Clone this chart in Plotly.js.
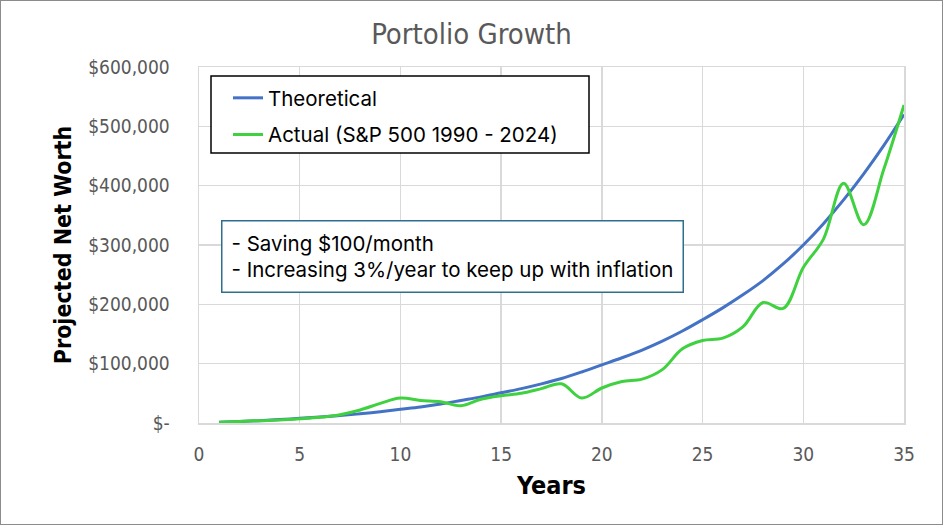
<!DOCTYPE html>
<html>
<head>
<meta charset="utf-8">
<script src="https://cdn.plot.ly/plotly-3.0.1.min.js"></script>
<style>
html,body{margin:0;padding:0;background:#fff;}
#chart{width:941px;height:523px;border:1px solid #8c8c8c;}
</style>
</head>
<body>
<div id="chart"></div>
<script>
// Data
const years = [1,2,3,4,5,6,7,8,9,10,11,12,13,14,15,16,17,18,19,20,21,22,23,24,25,26,27,28,29,30,31,32,33,34,35];
const theoretical = [1200,2500,4000,5800,7800,10000,12600,15500,19000,23000,27000,32000,38000,44000,51000,58000,66000,75000,86000,98000,110000,123000,138000,155000,174000,194000,216000,240000,268000,300000,336000,376000,420000,468000,520000];
const actual = [1200,2500,4000,5000,7000,9500,14000,22000,33000,42000,38000,36000,29000,40000,46000,50000,58000,66000,42000,59000,70000,74000,90000,125000,139000,143000,162000,203000,193000,262000,310000,404000,334000,428000,536000];
const seriesNames = ["Theoretical", "Actual (S&P 500 1990 - 2024)"];
const yTickVals = [0,100000,200000,300000,400000,500000,600000];
const yTickText = ["$-","$100,000","$200,000","$300,000","$400,000","$500,000","$600,000"];
const xTickVals = [0,5,10,15,20,25,30,35];
const chartTitle = "Portolio Growth";
const xTitle = "Years";
const yTitle = "Projected Net Worth";
const noteText = "- Saving $100/month<br>- Increasing 3%/year to keep up with inflation";

const narrow = '"Liberation Sans Narrow", "DejaVu Sans Condensed", sans-serif';
const body = 'Inter, "Noto Sans", sans-serif';

const traces = [
  {x: years, y: theoretical, name: seriesNames[0], type: 'scatter', mode: 'lines',
   line: {color: '#4472c4', width: 3, shape: 'spline', smoothing: 1}, legendgroup: 'a'},
  {x: years, y: actual, name: seriesNames[1], type: 'scatter', mode: 'lines',
   line: {color: '#3fd13f', width: 3, shape: 'spline', smoothing: 1}, legendgroup: 'b'}
];

const plotW = 941 - 198 - 38, plotH = 523 - 66 - 101;
const px = v => (v - 198) / plotW;        // page x -> paper x
const py = v => 1 - (v - 66) / plotH;     // page y -> paper y

const layout = {
  width: 941, height: 523,
  margin: {l: 198, r: 38, t: 66, b: 101},
  paper_bgcolor: '#fff', plot_bgcolor: '#fff',
  title: {text: chartTitle, x: 0.5, xanchor: 'center', yref: 'container', y: 1 - 33/523, yanchor: 'middle',
          font: {family: narrow, size: 29, color: '#595959'}},
  xaxis: {range: [0, 35], tickvals: xTickVals, ticks: 'outside', ticklen: 14, tickcolor: 'rgba(0,0,0,0)',
          showgrid: true, gridcolor: '#d9d9d9', gridwidth: 1.5, zeroline: false,
          showline: true, linecolor: '#d9d9d9', linewidth: 1.5, mirror: true,
          tickfont: {family: narrow, size: 19, color: '#595959'},
          title: {text: '<b>' + xTitle + '</b>', standoff: 12, font: {family: narrow, size: 25, color: '#000'}}},
  yaxis: {range: [0, 600000], tickvals: yTickVals, ticktext: yTickText, ticks: 'outside', ticklen: 24,
          tickcolor: 'rgba(0,0,0,0)',
          showgrid: true, gridcolor: '#d9d9d9', gridwidth: 1.5, zeroline: false,
          showline: true, linecolor: '#d9d9d9', linewidth: 1.5, mirror: true,
          tickfont: {family: narrow, size: 19, color: '#595959'},
          title: {text: '<b>' + yTitle + '</b>', standoff: 10, font: {family: narrow, size: 23, color: '#000'}}},
  showlegend: true,
  legend: {x: px(227), y: py(77), xanchor: 'left', yanchor: 'top', bgcolor: 'rgba(0,0,0,0)',
           borderwidth: 0, traceorder: 'grouped', tracegroupgap: 7,
           font: {family: body, size: 20.5, color: '#000'}, itemwidth: 30},
  shapes: [{type: 'rect', xref: 'paper', yref: 'paper', x0: px(210), x1: px(588), y0: py(75), y1: py(152),
            line: {color: '#000', width: 1.5}, fillcolor: '#fff', layer: 'above'}],
  annotations: [{xref: 'paper', yref: 'paper', x: px(220), y: py(219), xanchor: 'left', yanchor: 'top',
                 text: noteText, showarrow: false, align: 'left', bgcolor: '#fff',
                 bordercolor: '#2e6f8e', borderwidth: 1.5, borderpad: 9,
                 font: {family: body, size: 20.5, color: '#000'}}]
};

Plotly.newPlot('chart', traces, layout, {displayModeBar: false, staticPlot: true});
</script>
</body>
</html>
